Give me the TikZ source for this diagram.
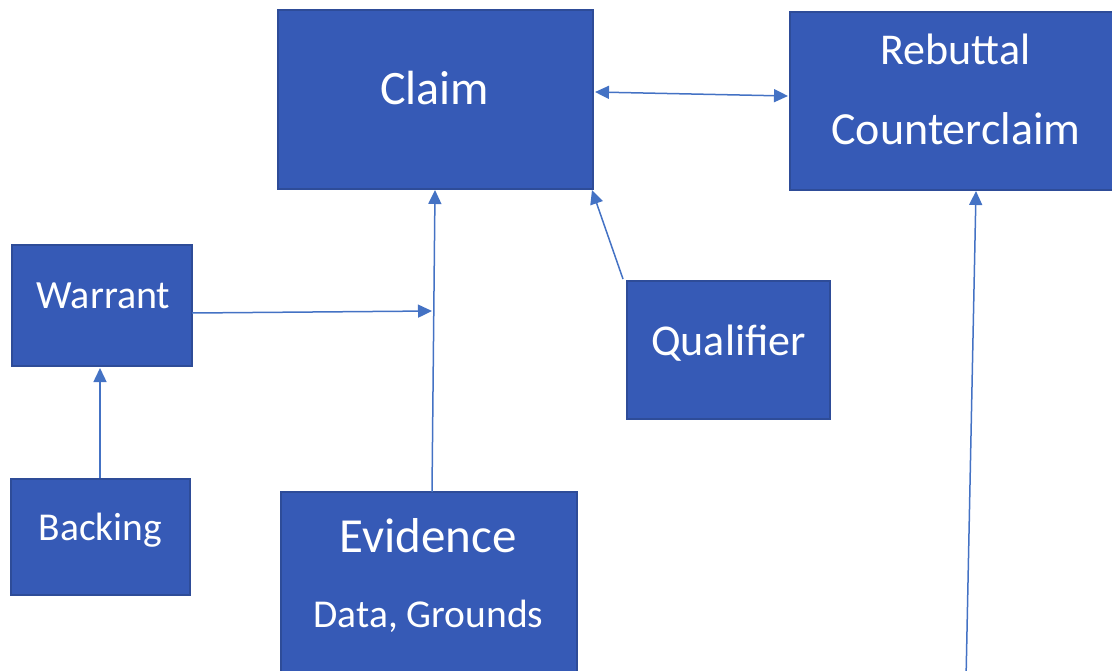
\documentclass[tikz,border=0pt]{standalone}
\usepackage{fontspec}
\setmainfont{Carlito}
\usetikzlibrary{arrows.meta}
\definecolor{boxblue}{HTML}{365AB6}
\definecolor{boxedge}{HTML}{2E4C98}
\definecolor{lineblue}{HTML}{4472C4}
\tikzset{
  box/.style={draw=boxedge, fill=boxblue, line width=1.4pt},
  lbl/.style={text=white, inner sep=0pt, anchor=base},
  conn/.style={draw=lineblue, line width=1.5pt, -{Triangle[length=14pt,width=13pt]}},
  conn2/.style={draw=lineblue, line width=1.5pt, {Triangle[length=14pt,width=13pt]}-{Triangle[length=14pt,width=13pt]}},
  plain/.style={draw=lineblue, line width=1.5pt}
}
\begin{document}
\begin{tikzpicture}[x=1pt,y=-1pt]
\useasboundingbox (0,0) rectangle (1112,670);
\clip (0,0) rectangle (1112,670);
% boxes
\node[box, minimum width=315pt, minimum height=179pt, inner sep=0pt] (claim) at (435.5,99.5) {};
\node[box, minimum width=330pt, minimum height=178pt, inner sep=0pt] (rebut) at (955,101) {};
\node[box, minimum width=180pt, minimum height=121pt, inner sep=0pt] (warrant) at (102,305.5) {};
\node[box, minimum width=179pt, minimum height=116pt, inner sep=0pt] (backing) at (100.5,537) {};
\node[box, minimum width=296pt, minimum height=200pt, inner sep=0pt] (evid) at (429,592) {};
\node[box, minimum width=203pt, minimum height=138pt, inner sep=0pt] (qual) at (728.5,350) {};
% labels
\node[lbl, font=\fontsize{48}{58}\selectfont] (tclaim) at (434.5,104) {Claim};
\node[lbl, font=\fontsize{44}{53}\selectfont] (treb) at (955.5,64) {Rebuttal};
\node[lbl, font=\fontsize{46}{55}\selectfont] (tcount) at (956,144) {Counterclaim};
\node[lbl, font=\fontsize{40}{48}\selectfont] (twar) at (103.5,308) {Warrant};
\node[lbl, font=\fontsize{44}{53}\selectfont] (tqual) at (728.5,355) {Qualifier};
\node[lbl, font=\fontsize{39.5}{48}\selectfont] (tback) at (100.5,540) {Backing};
\node[lbl, font=\fontsize{49}{59}\selectfont] (tevid) at (428,552) {Evidence};
\node[lbl, font=\fontsize{39.5}{48}\selectfont] (tdata) at (428.5,627) {Data, Grounds};
% connection points
\coordinate (cl) at (595,92);
\coordinate (rl) at (788,96);
\coordinate (evtop) at (432,492);
\coordinate (cltop) at (435,190);
\coordinate (junc) at (432,311);
\coordinate (war) at (192,313);
\coordinate (qtop) at (623,279);
\coordinate (cbr) at (592,190);
\coordinate (btop) at (100,478);
\coordinate (wbot) at (100,368);
\coordinate (rfree) at (966,680);
\coordinate (rbot) at (976,191);
% connectors
\draw[conn2] (cl) -- (rl);
\draw[conn] (evtop) -- (cltop);
\draw[conn] (war) -- (junc);
\draw[conn] (qtop) -- (cbr);
\draw[conn] (btop) -- (wbot);
\draw[conn] (rfree) -- (rbot);
\end{tikzpicture}
\end{document}
